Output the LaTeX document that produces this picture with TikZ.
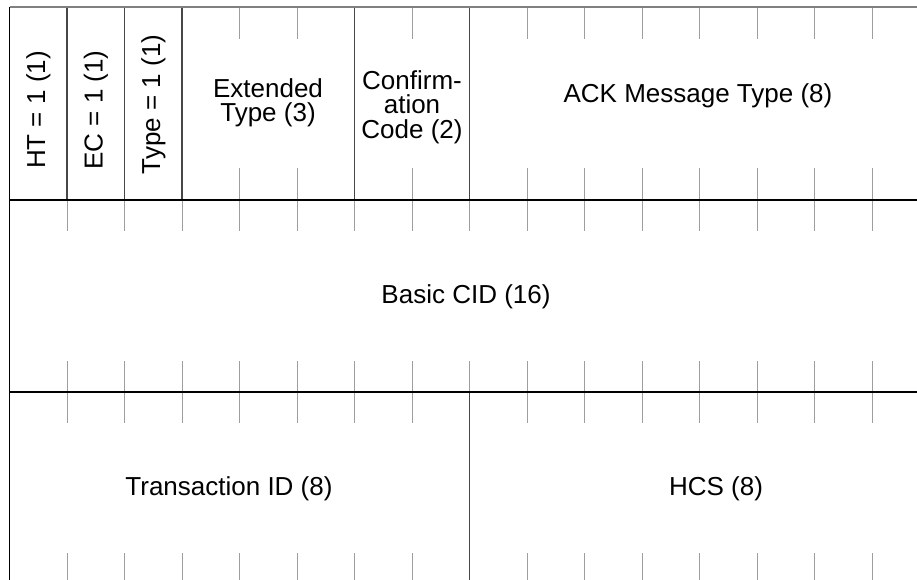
\documentclass[tikz,border=0pt]{standalone}
\usepackage{fontspec}
\setmainfont{Liberation Sans}
\begin{document}
\begin{tikzpicture}[x=1pt,y=-1pt,
  tickline/.style={draw=black!38,line width=1pt},
  rule/.style={draw=black!72,line width=1.2pt},
  frame/.style={draw=black,line width=1.3pt},
  topline/.style={draw=black!50,line width=1.2pt},
  lbl/.style={font=\fontsize{26}{24.5}\selectfont,align=center,inner sep=0pt}]
\useasboundingbox (0,0) rectangle (917,580);
% bit columns: boundary i sits at x = 9.5 + 57.5 i
% row 1: tick marks inside multi-bit fields
\foreach \i in {4,5,7,9,10,11,12,13,14,15}{
  \pgfmathsetmacro\xx{9.5+57.5*\i}
  \draw[tickline] (\xx,7) -- (\xx,39);
  \draw[tickline] (\xx,168) -- (\xx,200);
}
% row 2: tick marks at every bit
\foreach \i in {1,...,15}{
  \pgfmathsetmacro\xx{9.5+57.5*\i}
  \draw[tickline] (\xx,200) -- (\xx,231);
  \draw[tickline] (\xx,361) -- (\xx,392);
}
% row 3: tick marks except the field split
\foreach \i in {1,...,7,9,10,11,12,13,14,15}{
  \pgfmathsetmacro\xx{9.5+57.5*\i}
  \draw[tickline] (\xx,392) -- (\xx,423);
  \draw[tickline] (\xx,553) -- (\xx,585);
}
% field separators
\foreach \i in {1,2,3,6,8}{
  \pgfmathsetmacro\xx{9.5+57.5*\i}
  \draw[rule] (\xx,7) -- (\xx,200);
}
\draw[rule] (469.5,392) -- (469.5,585);
% outer frame and row boundaries
\draw[topline] (9.5,7) -- (929,7);
\draw[frame] (9.5,200) -- (929,200);
\draw[frame] (9.5,392) -- (929,392);
\draw[frame] (9.5,7) -- (9.5,585);
% field labels
\node[lbl,rotate=90] (ht) at (38.5,110) {HT = 1 (1)};
\node[lbl,rotate=90] (ec) at (96,110) {EC = 1 (1)};
\node[lbl,rotate=90] (type) at (153.5,104.5) {Type = 1 (1)};
\node[lbl] (ext) at (268,103) {Extended\\Type (3)};
\node[lbl] (conf) at (412,107) {Confirm-\\ation\\Code (2)};
\node[lbl] (ack) at (698,96) {ACK Message Type (8)};
\node[lbl] (cid) at (466,297) {Basic CID (16)};
\node[lbl] (tid) at (229,489) {Transaction ID (8)};
\node[lbl] (hcs) at (716,489) {HCS (8)};
\end{tikzpicture}
\end{document}
